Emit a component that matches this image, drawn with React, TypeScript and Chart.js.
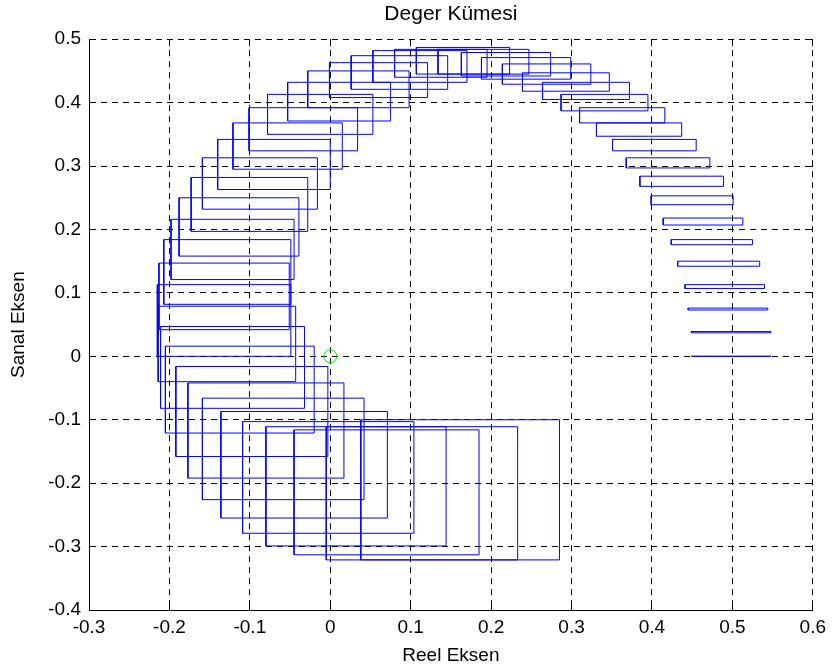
import React, { useEffect, useRef } from 'react';
import { Chart, registerables } from 'chart.js';

Chart.register(...registerables);

// Value-set rectangles (real part range, imaginary part range), one per frequency
const xMin = [0.449, 0.449, 0.445, 0.441, 0.432, 0.424, 0.414, 0.399, 0.385, 0.368, 0.351, 0.331, 0.310, 0.287, 0.264, 0.239, 0.214, 0.188, 0.163, 0.134, 0.107, 0.080, 0.053, 0.026, -0.001, -0.028, -0.053, -0.078, -0.101, -0.121, -0.140, -0.159, -0.173, -0.188, -0.198, -0.207, -0.213, -0.215, -0.214, -0.211, -0.205, -0.192, -0.177, -0.159, -0.136, -0.109, -0.080, -0.045, -0.005, 0.038];
const xMax = [0.548, 0.548, 0.544, 0.540, 0.534, 0.525, 0.513, 0.501, 0.489, 0.472, 0.455, 0.437, 0.416, 0.395, 0.372, 0.347, 0.324, 0.299, 0.274, 0.247, 0.223, 0.195, 0.170, 0.146, 0.121, 0.098, 0.075, 0.053, 0.034, 0.015, 0.000, -0.016, -0.028, -0.039, -0.045, -0.049, -0.051, -0.049, -0.043, -0.032, -0.020, -0.003, 0.017, 0.042, 0.071, 0.104, 0.144, 0.185, 0.233, 0.285];
const yMin = [0, 0.037, 0.073, 0.107, 0.142, 0.176, 0.207, 0.239, 0.268, 0.297, 0.324, 0.347, 0.368, 0.387, 0.405, 0.418, 0.429, 0.437, 0.442, 0.445, 0.445, 0.440, 0.432, 0.421, 0.408, 0.392, 0.371, 0.350, 0.324, 0.295, 0.263, 0.232, 0.197, 0.158, 0.121, 0.082, 0.042, 0.000, -0.040, -0.082, -0.121, -0.158, -0.192, -0.226, -0.255, -0.279, -0.299, -0.313, -0.321, -0.321];
const yMax = [0, 0.039, 0.076, 0.113, 0.150, 0.184, 0.218, 0.253, 0.284, 0.313, 0.342, 0.368, 0.392, 0.413, 0.432, 0.447, 0.461, 0.471, 0.479, 0.484, 0.487, 0.484, 0.482, 0.474, 0.463, 0.450, 0.432, 0.413, 0.392, 0.368, 0.342, 0.313, 0.282, 0.250, 0.216, 0.184, 0.147, 0.113, 0.079, 0.047, 0.016, -0.016, -0.042, -0.066, -0.087, -0.103, -0.111, -0.116, -0.111, -0.100];

const originX = [0];
const originY = [0];

const xRange = [-0.3, 0.6];
const yRange = [-0.4, 0.5];
const tickStep = 0.1;

const titleText = 'Deger Kümesi';
const xLabel = 'Reel Eksen';
const yLabel = 'Sanal Eksen';

const FONT = "'Liberation Sans', Arial, Helvetica, sans-serif";

const inwardTicks = {
  id: 'inwardTicks',
  beforeDatasetsDraw(chart: any) {
    const { ctx, chartArea } = chart;
    const { left, right, top, bottom } = chartArea;
    const xs = chart.scales.x;
    const ys = chart.scales.y;
    const len = 7;
    const al = (p: number) => Math.round(p - 0.5) + 0.5;
    ctx.save();
    ctx.strokeStyle = '#000';
    ctx.lineWidth = 1;
    ctx.setLineDash([]);
    ctx.beginPath();
    xs.ticks.forEach((t: any) => {
      const px = al(xs.getPixelForValue(t.value));
      ctx.moveTo(px, bottom);
      ctx.lineTo(px, bottom - len);
      ctx.moveTo(px, top);
      ctx.lineTo(px, top + len);
    });
    ys.ticks.forEach((t: any) => {
      const py = al(ys.getPixelForValue(t.value));
      ctx.moveTo(left, py);
      ctx.lineTo(left + len, py);
      ctx.moveTo(right, py);
      ctx.lineTo(right - len, py);
    });
    ctx.stroke();
    ctx.restore();
  },
};

const fmt = (v: any) => {
  const r = Math.round(Number(v) * 10) / 10;
  return (r === 0 ? 0 : r).toString();
};

export default function App() {
  const ref = useRef<HTMLCanvasElement>(null);

  useEffect(() => {
    if (!ref.current) return;
    const rectSets = xMin.map((_, i) => ({
      type: 'scatter' as const,
      data: [
        { x: xMin[i], y: yMin[i] },
        { x: xMax[i], y: yMin[i] },
        { x: xMax[i], y: yMax[i] },
        { x: xMin[i], y: yMax[i] },
        { x: xMin[i], y: yMin[i] },
      ],
      showLine: true,
      borderColor: '#0000ff',
      backgroundColor: '#0000ff',
      borderWidth: 1,
      pointRadius: 0,
      tension: 0,
      fill: false,
    }));
    const originSet = {
      type: 'scatter' as const,
      data: originX.map((x, i) => ({ x, y: originY[i] })),
      showLine: false,
      pointRadius: 6.5,
      pointStyle: 'circle',
      borderColor: '#00ee00',
      backgroundColor: 'rgba(0,0,0,0)',
      borderWidth: 1,
    };

    const chart = new Chart(ref.current, {
      type: 'scatter',
      data: { datasets: [originSet, ...rectSets] as any },
      options: {
        responsive: false,
        animation: false,
        devicePixelRatio: 1,
        layout: { padding: { left: 0, right: 19, top: 0, bottom: 0 } },
        plugins: {
          legend: { display: false },
          tooltip: { enabled: false },
          title: {
            display: true,
            text: titleText,
            color: '#000',
            fullSize: false,
            font: { family: FONT, size: 21, weight: 'normal' },
            padding: { top: 2, bottom: 12 },
          },
        },
        scales: {
          x: {
            type: 'linear',
            position: 'bottom',
            min: xRange[0],
            max: xRange[1],
            afterFit: (s: any) => { s.height = 60; },
            ticks: {
              stepSize: tickStep,
              color: '#000',
              font: { family: FONT, size: 19 },
              padding: 6,
              maxRotation: 0,
              autoSkip: false,
              callback: fmt,
            },
            grid: { color: '#000', lineWidth: 1, drawTicks: false },
            border: { display: true, color: '#000', width: 1, dash: [6, 5] },
            title: {
              display: true,
              text: xLabel,
              color: '#000',
              font: { family: FONT, size: 19 },
              padding: { top: 0, bottom: 3 },
            },
          },
          y: {
            type: 'linear',
            position: 'left',
            min: yRange[0],
            max: yRange[1],
            afterFit: (s: any) => { s.width = 89; },
            ticks: {
              stepSize: tickStep,
              color: '#000',
              font: { family: FONT, size: 19 },
              padding: 8,
              autoSkip: false,
              callback: fmt,
            },
            grid: { color: '#000', lineWidth: 1, drawTicks: false },
            border: { display: true, color: '#000', width: 1, dash: [6, 5] },
            title: {
              display: true,
              text: yLabel,
              color: '#000',
              font: { family: FONT, size: 19 },
              padding: { top: 7, bottom: 0 },
            },
          },
        },
      } as any,
      plugins: [inwardTicks],
    });
    return () => chart.destroy();
  }, []);

  return (
    <canvas
      ref={ref}
      width={832}
      height={670}
      style={{ position: 'fixed', left: 0, top: 0, width: 832, height: 670, background: '#fff' }}
    />
  );
}
